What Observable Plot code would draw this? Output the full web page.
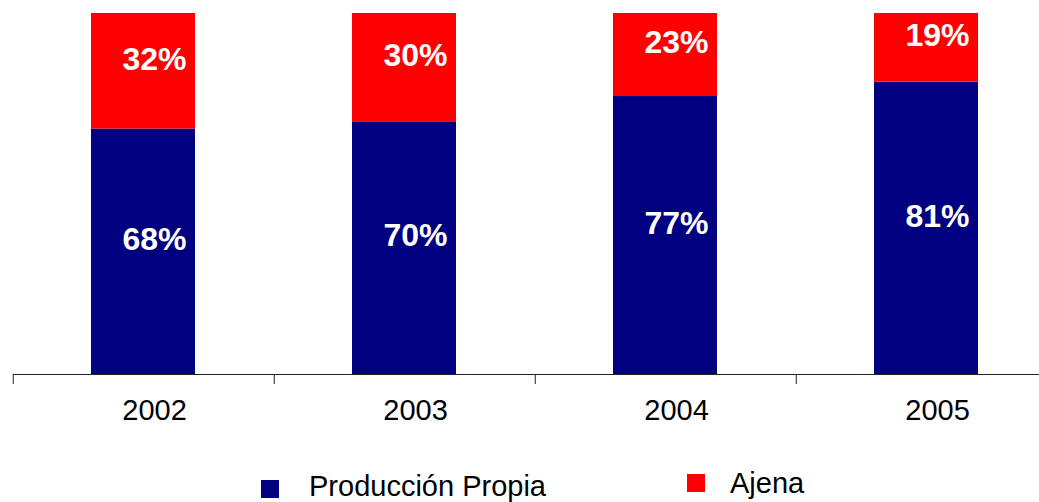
<!DOCTYPE html>
<html>
<head>
<meta charset="utf-8">
<script src="https://cdn.jsdelivr.net/npm/d3@7"></script>
<script src="https://cdn.jsdelivr.net/npm/@observablehq/plot@0.6"></script>
<style>
  html, body { margin: 0; padding: 0; background: #fff; overflow: hidden; }
  #wrap { position: relative; width: 1039px; height: 502px; font-family: "Liberation Sans", Arial, sans-serif; }
  #chart { position: absolute; left: 0; top: 0; }
  .lg-sw { position: absolute; width: 18px; height: 18px; }
  .lg-tx { position: absolute; font-size: 29px; color: #000; line-height: 1; white-space: nowrap; }
</style>
</head>
<body>
<div id="wrap">
  <div id="chart"></div>
  <div class="lg-sw" style="left:261px; top:480px; background:#000080;"></div>
  <div class="lg-tx" id="lg1" style="left:309px; top:472px;"></div>
  <div class="lg-sw" style="left:687px; top:474px; background:#FF0000;"></div>
  <div class="lg-tx" id="lg2" style="left:730px; top:469px;"></div>
</div>
<script>
const years = ["2002", "2003", "2004", "2005"];
const series = ["Producción Propia", "Ajena"];
const propia = [68, 70, 77, 81];
const ajena = [32, 30, 23, 19];
const colors = ["#000080", "#FF0000"];

document.getElementById("lg1").textContent = series[0];
document.getElementById("lg2").textContent = series[1];

const data = [];
years.forEach((y, i) => {
  data.push({year: y, serie: series[0], value: propia[i]});
  data.push({year: y, serie: series[1], value: ajena[i]});
});

const chart = Plot.plot({
  width: 1039,
  height: 440,
  marginLeft: 13,
  marginRight: -18,
  marginTop: 13,
  marginBottom: 66,
  style: {fontFamily: "'Liberation Sans', Arial, sans-serif", background: "#fff"},
  x: {domain: years, paddingInner: 0.6, paddingOuter: 0.3, axis: null},
  y: {domain: [0, 100], axis: null},
  color: {domain: series, range: colors},
  marks: [
    Plot.barY(data, Plot.stackY({x: "year", y: "value", fill: "serie", order: series})),
    Plot.text(data, Plot.stackY({
      x: "year", y: "value", z: "serie", order: series,
      text: d => d.value + "%",
      fill: "#fff", fontWeight: "bold", fontSize: 32, dx: 11, dy: -12
    })),
    Plot.ruleY([0], {stroke: "#222", strokeWidth: 1}),
    Plot.ruleX(years, {x: d => d, y1: 0, y2: 0, insetBottom: -10, dx: -130.25, stroke: "#222", strokeWidth: 1}),
    Plot.text(years, {x: d => d, frameAnchor: "bottom", dy: 36, dx: 11, text: d => d, fontSize: 29, fill: "#000", lineAnchor: "middle"})
  ]
});
document.getElementById("chart").appendChild(chart);
</script>
</body>
</html>
